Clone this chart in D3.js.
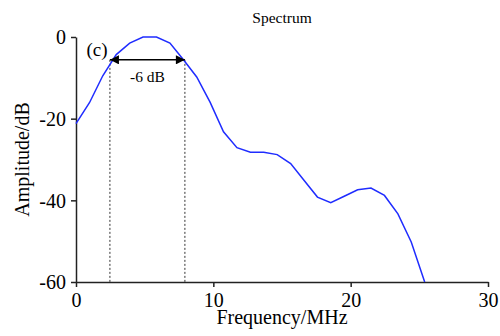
<!DOCTYPE html>
<html>
<head>
<meta charset="utf-8">
<script src="https://cdn.jsdelivr.net/npm/d3@7"></script>
<style>
  body { margin: 0; background: #fff; }
  text { font-family: "Liberation Serif", "Times New Roman", serif; fill: #000; }
</style>
</head>
<body>
<div id="chart"></div>
<script>
// spectrum samples (MHz, dB)
const freq = [0, 0.98, 1.95, 2.93, 3.91, 4.88, 5.86, 6.84, 7.81, 8.79, 9.77, 10.74, 11.72, 12.70,
  13.67, 14.65, 15.63, 16.60, 17.58, 18.55, 19.53, 20.51, 21.48, 22.46, 23.44, 24.41, 25.39];
const amplitude = [-21.2, -16.1, -9.5, -4.3, -1.5, 0, 0, -1.5, -5.5, -9.8, -16, -23.2, -27.1, -28.2,
  -28.2, -28.8, -31, -35.1, -39.2, -40.6, -39, -37.4, -37, -38.8, -43.3, -50.2, -60];
const xTicks = [0, 10, 20, 30];
const yTicks = [0, -20, -40, -60];
const bandEdges = [2.47, 7.93]; // -6 dB points
const bandLevel = -5.6;

const W = 500, H = 336;
const margin = { top: 37, right: 12, bottom: 54, left: 76 };

const svg = d3.select("#chart").append("svg")
  .attr("width", W).attr("height", H);

const x = d3.scaleLinear().domain([0, 30]).range([margin.left, W - margin.right]);
const y = d3.scaleLinear().domain([-60, 0]).range([H - margin.bottom, margin.top]);

// axes
const xAxis = svg.append("g")
  .attr("transform", `translate(0,${y(-60)})`)
  .call(d3.axisBottom(x).tickValues(xTicks).tickSize(5).tickSizeOuter(0).tickPadding(6));
const yAxis = svg.append("g")
  .attr("transform", `translate(${x(0)},0)`)
  .call(d3.axisLeft(y).tickValues(yTicks).tickSize(5).tickSizeOuter(0).tickPadding(5)
    .tickFormat(d => (d < 0 ? "-" + Math.abs(d) : d)));

[xAxis, yAxis].forEach(g => {
  g.select(".domain").attr("stroke", "#222").attr("stroke-width", 1.5);
  g.selectAll(".tick line").attr("stroke", "#222").attr("stroke-width", 1.5);
  g.selectAll(".tick text")
    .attr("font-family", "'Liberation Serif', 'Times New Roman', serif")
    .attr("font-size", 20).attr("fill", "#000");
});
yAxis.selectAll(".tick text").attr("dy", "0.34em");

// dotted markers for -6 dB band
svg.selectAll(".band")
  .data(bandEdges)
  .enter().append("line")
  .attr("x1", d => x(d)).attr("x2", d => x(d))
  .attr("y1", y(bandLevel)).attr("y2", y(-60))
  .attr("stroke", "#333").attr("stroke-width", 1)
  .attr("stroke-dasharray", "2,2");

// spectrum curve
const line = d3.line()
  .x((d, i) => x(freq[i]))
  .y(d => y(d));

svg.append("path")
  .datum(amplitude)
  .attr("fill", "none")
  .attr("stroke", "#1f2cff")
  .attr("stroke-width", 1.5)
  .attr("d", line);

// double arrow
const defs = svg.append("defs");
defs.append("marker")
  .attr("id", "head")
  .attr("viewBox", "0 0 10 10")
  .attr("refX", 10).attr("refY", 5)
  .attr("markerWidth", 10).attr("markerHeight", 9)
  .attr("markerUnits", "userSpaceOnUse")
  .attr("orient", "auto-start-reverse")
  .append("path").attr("d", "M0,0L10,5L0,10Z").attr("fill", "#000");

svg.append("line")
  .attr("x1", x(bandEdges[0])).attr("x2", x(bandEdges[1]))
  .attr("y1", y(bandLevel)).attr("y2", y(bandLevel))
  .attr("stroke", "#000").attr("stroke-width", 1.5)
  .attr("marker-start", "url(#head)")
  .attr("marker-end", "url(#head)");

svg.append("text")
  .attr("x", x((bandEdges[0] + bandEdges[1]) / 2)).attr("y", 82)
  .attr("text-anchor", "middle").attr("font-size", 15.5)
  .text("-6 dB");

svg.append("text")
  .attr("x", 97).attr("y", 56)
  .attr("text-anchor", "middle").attr("font-size", 19)
  .text("(c)");

// titles
svg.append("text")
  .attr("x", 282).attr("y", 23)
  .attr("text-anchor", "middle").attr("font-size", 15.5)
  .text("Spectrum");

svg.append("text")
  .attr("x", (x(0) + x(30)) / 2).attr("y", 324)
  .attr("text-anchor", "middle").attr("font-size", 20)
  .text("Frequency/MHz");

svg.append("text")
  .attr("transform", `translate(22,${(y(0) + y(-60)) / 2}) rotate(-90)`)
  .attr("dy", "0.35em")
  .attr("text-anchor", "middle").attr("font-size", 20)
  .text("Amplitude/dB");
</script>
</body>
</html>
